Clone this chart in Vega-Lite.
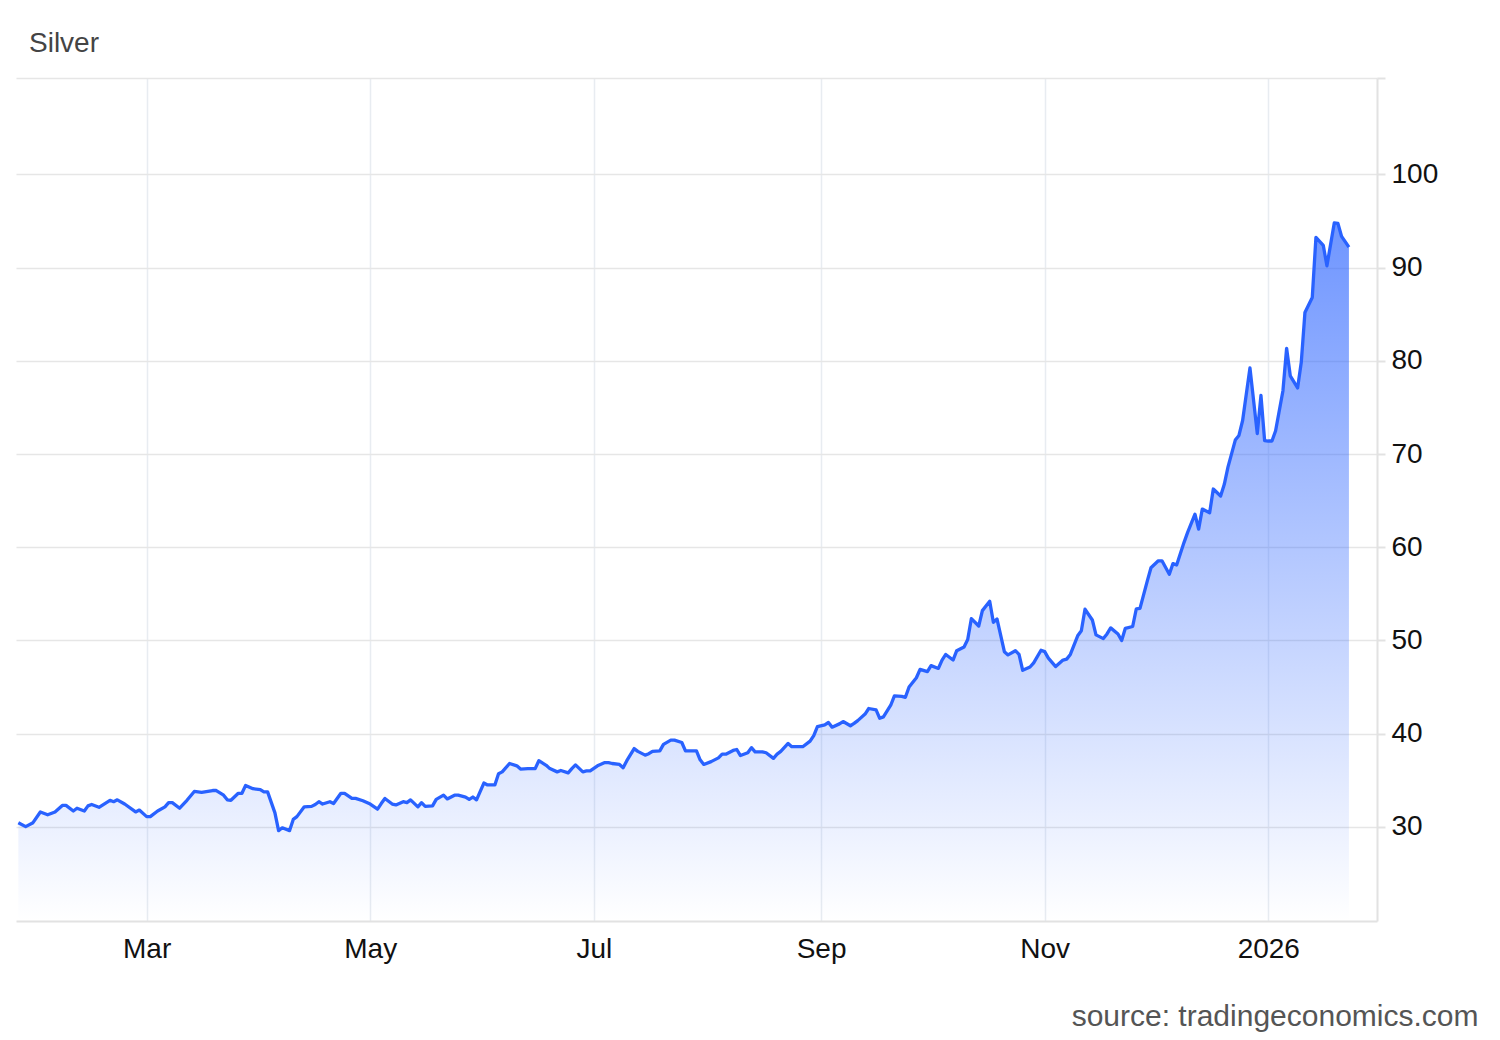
{
  "$schema": "https://vega.github.io/schema/vega-lite/v6.json",
  "width": 1361,
  "height": 843,
  "autosize": {"type": "none"},
  "padding": {"left": 16, "top": 78, "right": 123, "bottom": 119},
  "background": "white",
  "title": {
    "text": "Silver",
    "anchor": "start",
    "frame": "group",
    "baseline": "alphabetic",
    "offset": -3,
    "dx": 13,
    "font": "Liberation Sans",
    "fontSize": 28,
    "fontWeight": "normal",
    "color": "#444444"
  },
  "config": {
    "view": {"stroke": null},
    "font": "Liberation Sans"
  },
  "data": {
    "values": [
      {"date": "2025-01-25", "price": 30.45},
      {"date": "2025-01-27", "price": 30.03},
      {"date": "2025-01-29", "price": 30.45},
      {"date": "2025-01-31", "price": 31.6},
      {"date": "2025-02-02", "price": 31.3},
      {"date": "2025-02-04", "price": 31.6},
      {"date": "2025-02-06", "price": 32.3},
      {"date": "2025-02-07", "price": 32.3},
      {"date": "2025-02-09", "price": 31.7},
      {"date": "2025-02-10", "price": 32.0},
      {"date": "2025-02-12", "price": 31.7},
      {"date": "2025-02-13", "price": 32.25},
      {"date": "2025-02-14", "price": 32.4},
      {"date": "2025-02-16", "price": 32.1},
      {"date": "2025-02-19", "price": 32.85},
      {"date": "2025-02-20", "price": 32.7},
      {"date": "2025-02-21", "price": 32.9},
      {"date": "2025-02-23", "price": 32.45},
      {"date": "2025-02-26", "price": 31.6},
      {"date": "2025-02-27", "price": 31.8},
      {"date": "2025-03-01", "price": 31.1},
      {"date": "2025-03-02", "price": 31.1},
      {"date": "2025-03-04", "price": 31.7},
      {"date": "2025-03-06", "price": 32.15},
      {"date": "2025-03-07", "price": 32.6},
      {"date": "2025-03-08", "price": 32.6},
      {"date": "2025-03-10", "price": 32.0},
      {"date": "2025-03-12", "price": 32.85},
      {"date": "2025-03-14", "price": 33.8},
      {"date": "2025-03-16", "price": 33.7},
      {"date": "2025-03-19", "price": 33.9},
      {"date": "2025-03-20", "price": 33.9},
      {"date": "2025-03-22", "price": 33.4},
      {"date": "2025-03-23", "price": 32.9},
      {"date": "2025-03-24", "price": 32.85},
      {"date": "2025-03-26", "price": 33.6},
      {"date": "2025-03-27", "price": 33.6},
      {"date": "2025-03-28", "price": 34.45},
      {"date": "2025-03-30", "price": 34.1},
      {"date": "2025-04-01", "price": 34.0},
      {"date": "2025-04-02", "price": 33.75},
      {"date": "2025-04-03", "price": 33.75},
      {"date": "2025-04-05", "price": 31.5},
      {"date": "2025-04-06", "price": 29.6},
      {"date": "2025-04-07", "price": 29.9},
      {"date": "2025-04-09", "price": 29.6},
      {"date": "2025-04-10", "price": 30.8},
      {"date": "2025-04-11", "price": 31.1},
      {"date": "2025-04-13", "price": 32.15},
      {"date": "2025-04-15", "price": 32.2},
      {"date": "2025-04-16", "price": 32.4},
      {"date": "2025-04-17", "price": 32.7},
      {"date": "2025-04-18", "price": 32.45},
      {"date": "2025-04-20", "price": 32.7},
      {"date": "2025-04-21", "price": 32.5},
      {"date": "2025-04-23", "price": 33.6},
      {"date": "2025-04-24", "price": 33.6},
      {"date": "2025-04-26", "price": 33.05},
      {"date": "2025-04-27", "price": 33.05},
      {"date": "2025-04-29", "price": 32.8},
      {"date": "2025-05-01", "price": 32.45},
      {"date": "2025-05-03", "price": 31.9},
      {"date": "2025-05-04", "price": 32.5},
      {"date": "2025-05-05", "price": 33.05},
      {"date": "2025-05-07", "price": 32.45},
      {"date": "2025-05-08", "price": 32.35},
      {"date": "2025-05-10", "price": 32.7},
      {"date": "2025-05-11", "price": 32.6},
      {"date": "2025-05-12", "price": 32.9},
      {"date": "2025-05-14", "price": 32.15},
      {"date": "2025-05-15", "price": 32.6},
      {"date": "2025-05-16", "price": 32.2},
      {"date": "2025-05-18", "price": 32.25},
      {"date": "2025-05-19", "price": 32.95},
      {"date": "2025-05-21", "price": 33.4},
      {"date": "2025-05-22", "price": 33.0},
      {"date": "2025-05-24", "price": 33.4},
      {"date": "2025-05-25", "price": 33.4},
      {"date": "2025-05-27", "price": 33.2},
      {"date": "2025-05-28", "price": 32.95},
      {"date": "2025-05-29", "price": 33.2},
      {"date": "2025-05-30", "price": 32.9},
      {"date": "2025-06-01", "price": 34.7},
      {"date": "2025-06-02", "price": 34.5},
      {"date": "2025-06-04", "price": 34.5},
      {"date": "2025-06-05", "price": 35.7},
      {"date": "2025-06-06", "price": 35.9},
      {"date": "2025-06-08", "price": 36.8},
      {"date": "2025-06-10", "price": 36.55},
      {"date": "2025-06-11", "price": 36.2},
      {"date": "2025-06-13", "price": 36.25},
      {"date": "2025-06-15", "price": 36.25},
      {"date": "2025-06-16", "price": 37.1},
      {"date": "2025-06-18", "price": 36.6},
      {"date": "2025-06-19", "price": 36.25},
      {"date": "2025-06-21", "price": 35.9},
      {"date": "2025-06-22", "price": 36.05},
      {"date": "2025-06-24", "price": 35.8},
      {"date": "2025-06-25", "price": 36.25},
      {"date": "2025-06-26", "price": 36.65},
      {"date": "2025-06-28", "price": 35.9},
      {"date": "2025-06-29", "price": 36.0},
      {"date": "2025-06-30", "price": 36.0},
      {"date": "2025-07-02", "price": 36.55},
      {"date": "2025-07-04", "price": 36.9},
      {"date": "2025-07-05", "price": 36.9},
      {"date": "2025-07-06", "price": 36.8},
      {"date": "2025-07-08", "price": 36.7},
      {"date": "2025-07-09", "price": 36.35},
      {"date": "2025-07-10", "price": 37.1},
      {"date": "2025-07-12", "price": 38.4},
      {"date": "2025-07-13", "price": 38.1},
      {"date": "2025-07-15", "price": 37.7},
      {"date": "2025-07-16", "price": 37.85},
      {"date": "2025-07-17", "price": 38.1},
      {"date": "2025-07-19", "price": 38.15},
      {"date": "2025-07-20", "price": 38.85},
      {"date": "2025-07-22", "price": 39.3},
      {"date": "2025-07-23", "price": 39.3},
      {"date": "2025-07-25", "price": 39.05},
      {"date": "2025-07-26", "price": 38.15},
      {"date": "2025-07-27", "price": 38.15},
      {"date": "2025-07-29", "price": 38.15},
      {"date": "2025-07-30", "price": 37.2},
      {"date": "2025-07-31", "price": 36.7},
      {"date": "2025-08-02", "price": 37.0},
      {"date": "2025-08-04", "price": 37.4},
      {"date": "2025-08-05", "price": 37.8},
      {"date": "2025-08-06", "price": 37.8},
      {"date": "2025-08-08", "price": 38.2},
      {"date": "2025-08-09", "price": 38.3},
      {"date": "2025-08-10", "price": 37.65},
      {"date": "2025-08-12", "price": 37.95},
      {"date": "2025-08-13", "price": 38.5},
      {"date": "2025-08-14", "price": 38.05},
      {"date": "2025-08-16", "price": 38.05},
      {"date": "2025-08-17", "price": 37.95},
      {"date": "2025-08-19", "price": 37.35},
      {"date": "2025-08-20", "price": 37.8},
      {"date": "2025-08-21", "price": 38.1},
      {"date": "2025-08-23", "price": 38.95},
      {"date": "2025-08-24", "price": 38.6},
      {"date": "2025-08-25", "price": 38.6},
      {"date": "2025-08-27", "price": 38.6},
      {"date": "2025-08-29", "price": 39.2},
      {"date": "2025-08-30", "price": 39.8},
      {"date": "2025-08-31", "price": 40.75},
      {"date": "2025-09-02", "price": 40.95},
      {"date": "2025-09-03", "price": 41.2},
      {"date": "2025-09-04", "price": 40.7},
      {"date": "2025-09-06", "price": 41.05},
      {"date": "2025-09-07", "price": 41.3},
      {"date": "2025-09-09", "price": 40.85},
      {"date": "2025-09-10", "price": 41.1},
      {"date": "2025-09-11", "price": 41.4},
      {"date": "2025-09-13", "price": 42.1},
      {"date": "2025-09-14", "price": 42.7},
      {"date": "2025-09-16", "price": 42.55},
      {"date": "2025-09-17", "price": 41.65},
      {"date": "2025-09-18", "price": 41.8},
      {"date": "2025-09-20", "price": 43.05},
      {"date": "2025-09-21", "price": 44.05},
      {"date": "2025-09-23", "price": 44.0},
      {"date": "2025-09-24", "price": 43.9},
      {"date": "2025-09-25", "price": 45.0},
      {"date": "2025-09-27", "price": 46.0},
      {"date": "2025-09-28", "price": 46.9},
      {"date": "2025-09-30", "price": 46.65},
      {"date": "2025-10-01", "price": 47.3},
      {"date": "2025-10-03", "price": 47.0},
      {"date": "2025-10-04", "price": 47.9},
      {"date": "2025-10-05", "price": 48.5},
      {"date": "2025-10-07", "price": 47.9},
      {"date": "2025-10-08", "price": 48.9},
      {"date": "2025-10-10", "price": 49.3},
      {"date": "2025-10-11", "price": 50.1},
      {"date": "2025-10-12", "price": 52.35},
      {"date": "2025-10-14", "price": 51.55},
      {"date": "2025-10-15", "price": 53.2},
      {"date": "2025-10-17", "price": 54.2},
      {"date": "2025-10-18", "price": 51.95},
      {"date": "2025-10-19", "price": 52.3},
      {"date": "2025-10-21", "price": 48.8},
      {"date": "2025-10-22", "price": 48.45},
      {"date": "2025-10-24", "price": 48.9},
      {"date": "2025-10-25", "price": 48.5},
      {"date": "2025-10-26", "price": 46.8},
      {"date": "2025-10-28", "price": 47.15},
      {"date": "2025-10-29", "price": 47.6},
      {"date": "2025-10-31", "price": 48.95},
      {"date": "2025-11-01", "price": 48.8},
      {"date": "2025-11-02", "price": 48.1},
      {"date": "2025-11-04", "price": 47.2},
      {"date": "2025-11-06", "price": 47.9},
      {"date": "2025-11-07", "price": 48.0},
      {"date": "2025-11-08", "price": 48.5},
      {"date": "2025-11-10", "price": 50.5},
      {"date": "2025-11-11", "price": 51.05},
      {"date": "2025-11-12", "price": 53.35},
      {"date": "2025-11-14", "price": 52.2},
      {"date": "2025-11-15", "price": 50.6},
      {"date": "2025-11-17", "price": 50.2},
      {"date": "2025-11-18", "price": 50.7},
      {"date": "2025-11-19", "price": 51.35},
      {"date": "2025-11-21", "price": 50.7},
      {"date": "2025-11-22", "price": 50.0},
      {"date": "2025-11-23", "price": 51.3},
      {"date": "2025-11-25", "price": 51.5},
      {"date": "2025-11-26", "price": 53.4},
      {"date": "2025-11-27", "price": 53.45},
      {"date": "2025-11-29", "price": 56.4},
      {"date": "2025-11-30", "price": 57.8},
      {"date": "2025-12-02", "price": 58.55},
      {"date": "2025-12-03", "price": 58.55},
      {"date": "2025-12-05", "price": 57.1},
      {"date": "2025-12-06", "price": 58.25},
      {"date": "2025-12-07", "price": 58.1},
      {"date": "2025-12-09", "price": 60.5},
      {"date": "2025-12-10", "price": 61.6},
      {"date": "2025-12-12", "price": 63.55},
      {"date": "2025-12-13", "price": 61.95},
      {"date": "2025-12-14", "price": 64.1},
      {"date": "2025-12-16", "price": 63.7},
      {"date": "2025-12-17", "price": 66.25},
      {"date": "2025-12-19", "price": 65.5},
      {"date": "2025-12-20", "price": 66.75},
      {"date": "2025-12-21", "price": 68.6},
      {"date": "2025-12-23", "price": 71.5},
      {"date": "2025-12-24", "price": 72.0},
      {"date": "2025-12-25", "price": 73.6},
      {"date": "2025-12-27", "price": 79.25},
      {"date": "2025-12-29", "price": 72.2},
      {"date": "2025-12-30", "price": 76.3},
      {"date": "2025-12-31", "price": 71.45},
      {"date": "2026-01-01", "price": 71.4},
      {"date": "2026-01-02", "price": 71.4},
      {"date": "2026-01-03", "price": 72.5},
      {"date": "2026-01-05", "price": 76.8},
      {"date": "2026-01-06", "price": 81.35},
      {"date": "2026-01-07", "price": 78.4},
      {"date": "2026-01-09", "price": 77.1},
      {"date": "2026-01-10", "price": 79.85},
      {"date": "2026-01-11", "price": 85.2},
      {"date": "2026-01-13", "price": 86.8},
      {"date": "2026-01-14", "price": 93.25},
      {"date": "2026-01-16", "price": 92.4},
      {"date": "2026-01-17", "price": 90.2},
      {"date": "2026-01-19", "price": 94.8},
      {"date": "2026-01-20", "price": 94.75},
      {"date": "2026-01-21", "price": 93.35},
      {"date": "2026-01-23", "price": 92.2}
    ]
  },
  "mark": {
    "type": "area",
    "interpolate": "linear",
    "clip": true,
    "color": {
      "gradient": "linear",
      "x1": 0, "y1": 0, "x2": 0, "y2": 1,
      "stops": [
        {"offset": 0, "color": "rgba(41,98,255,0.96)"},
        {"offset": 1, "color": "rgba(41,98,255,0.0)"}
      ]
    },
    "line": {"color": "#2962ff", "strokeWidth": 3.3, "strokeJoin": "round"}
  },
  "encoding": {
    "x": {
      "field": "date",
      "type": "temporal",
      "scale": {
        "type": "utc",
        "domain": [
          {"year": 2025, "month": "jan", "date": 24, "hours": 8, "minutes": 38, "utc": true},
          {"year": 2026, "month": "jan", "date": 30, "hours": 15, "minutes": 50, "utc": true}
        ]
      },
      "axis": {
        "tickCount": {"interval": "month", "step": 2},
        "labelExpr": "utcmonth(datum.value) == 0 ? utcFormat(datum.value, '%Y') : utcFormat(datum.value, '%b')",
        "labelFont": "Liberation Sans",
        "labelFontSize": 28,
        "labelColor": "#111111",
        "labelPadding": 14,
        "labelBaseline": "top",
        "ticks": false,
        "tickSize": 0,
        "grid": true,
        "gridColor": "#e8ecf1",
        "gridWidth": 1.5,
        "domain": true,
        "domainColor": "#e2e2e2",
        "domainWidth": 2,
        "labelFlush": false,
        "labelOverlap": false,
        "title": "source: tradingeconomics.com",
        "titleX": 1462,
        "titleY": 104,
        "titleAlign": "right",
        "titleBaseline": "alphabetic",
        "titleFont": "Liberation Sans",
        "titleFontSize": 30,
        "titleFontWeight": "normal",
        "titleColor": "#555555"
      }
    },
    "y": {
      "field": "price",
      "type": "quantitative",
      "scale": {"domain": [19.9, 110.35], "nice": false, "zero": false},
      "axis": {
        "orient": "right",
        "values": [30, 40, 50, 60, 70, 80, 90, 100, 110.35],
        "labelExpr": "datum.value > 105 ? '' : datum.label",
        "labelFont": "Liberation Sans",
        "labelFontSize": 28,
        "labelColor": "#111111",
        "labelPadding": 6,
        "tickSize": 8,
        "tickColor": "#e2e2e2",
        "tickWidth": 2,
        "grid": true,
        "gridColor": "#e6e6e6",
        "gridWidth": 1.5,
        "domain": true,
        "domainColor": "#e2e2e2",
        "domainWidth": 2,
        "title": null
      }
    },
    "y2": {"datum": 19.9}
  }
}
